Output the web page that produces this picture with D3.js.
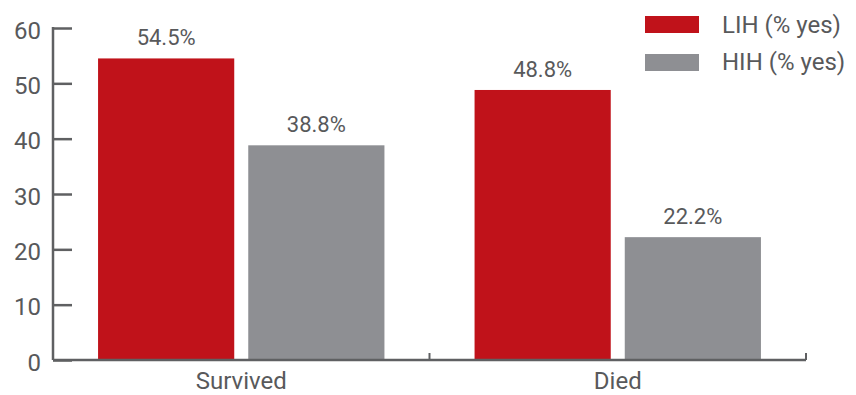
<!DOCTYPE html>
<html><head><meta charset="utf-8">
<script src="https://cdn.jsdelivr.net/npm/d3@7"></script>
<style>
body{margin:0;background:#fff;}
text{font-family:Roboto, "Noto Sans", sans-serif;fill:#58595b;}
</style></head>
<body><svg id="c" width="856" height="395"></svg>
<script>
const categories = ["Survived", "Died"];
const seriesNames = ["LIH (% yes)", "HIH (% yes)"];
const lihValues = [54.5, 48.8];
const hihValues = [38.8, 22.2];
const yTicks = [0, 10, 20, 30, 40, 50, 60];
const colors = ["#c0121a", "#8e8f93"];

(function(){
const svg = d3.select("#c");
const mLeft = 53, mRight = 806, mTop = 28, mBottom = 360;
const x = d3.scaleBand().domain(categories).range([mLeft, mRight]).paddingInner(0).paddingOuter(0);
const x1 = d3.scaleBand().domain(seriesNames).range([0, x.bandwidth()]).paddingInner(0.0933).paddingOuter(0.3);
const y = d3.scaleLinear().domain([0, 60]).range([mBottom, mTop]);
const axisColor = "#5f6062";

const data = categories.map((c, i) => ({cat: c, vals: [lihValues[i], hihValues[i]]}));

const g = svg.append("g");
data.forEach(d => {
  d.vals.forEach((v, j) => {
    const bx = x(d.cat) + x1(seriesNames[j]);
    g.append("rect").attr("x", bx).attr("y", y(v)).attr("width", x1.bandwidth()).attr("height", y(0) - y(v)).attr("fill", colors[j]);
    g.append("text").attr("x", bx + x1.bandwidth() / 2).attr("y", y(v) - 13)
      .attr("text-anchor", "middle").style("font-size", "22px").text(v.toFixed(1) + "%");
  });
});

const ya = svg.append("g").attr("transform", `translate(${mLeft},0)`)
  .call(d3.axisRight(y).tickValues(yTicks).tickSize(19).tickFormat(""));
ya.select(".domain").remove();
ya.selectAll(".tick line").attr("stroke", axisColor).attr("stroke-width", 2.5);
svg.append("line").attr("x1", mLeft).attr("x2", mLeft).attr("y1", y(60) - 1).attr("y2", y(0)).attr("stroke", axisColor).attr("stroke-width", 2.5);
svg.selectAll(".ylab").data(yTicks).enter().append("text")
  .attr("x", 41).attr("y", d => y(d) + 10.5).attr("text-anchor", "end")
  .style("font-size", "24px").text(d => d);

svg.append("line").attr("x1", mLeft).attr("x2", mRight).attr("y1", y(0)).attr("y2", y(0)).attr("stroke", axisColor).attr("stroke-width", 2.5);
[x(categories[1]), mRight].forEach(b => {
  svg.append("line").attr("x1", b).attr("x2", b).attr("y1", y(0)).attr("y2", y(0) - 7).attr("stroke", axisColor).attr("stroke-width", 2);
});
svg.selectAll(".xlab").data(categories).enter().append("text")
  .attr("x", d => x(d) + x.bandwidth() / 2).attr("y", 389).attr("text-anchor", "middle")
  .style("font-size", "24px").text(d => d);

seriesNames.forEach((s, i) => {
  svg.append("rect").attr("x", 645).attr("y", 16 + i * 38).attr("width", 54).attr("height", 17).attr("fill", colors[i]);
  svg.append("text").attr("x", 722).attr("y", 33 + i * 37).style("font-size", "24px").text(s);
});
})();
</script></body></html>
